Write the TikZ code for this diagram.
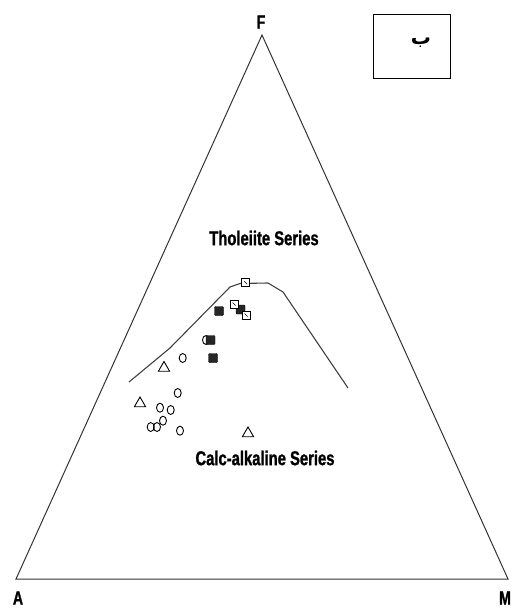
\documentclass[tikz,border=0pt]{standalone}
\usepackage{fontspec}
\setmainfont{Liberation Sans}
\newfontfamily\narrowfont[FakeStretch=0.74, BoldFeatures={FakeBold=1.2}]{Liberation Sans}
\newfontfamily\arabicfont[Script=Arabic]{DejaVu Sans}
\TeXXeTstate=1
\usepackage{tikz}
\usetikzlibrary{shapes.geometric, positioning, calc}
\tikzset{
  corner/.style={font=\narrowfont\bfseries\fontsize{19}{21}\selectfont, inner sep=0pt},
  serieslabel/.style={font=\narrowfont\bfseries\fontsize{20}{22}\selectfont, inner sep=0pt},
  circ/.style={draw, line width=0.9pt, ellipse, minimum width=7pt, minimum height=9pt, inner sep=0pt},
  tri/.style={draw, line width=0.9pt, regular polygon, regular polygon sides=3, minimum size=13pt, inner sep=0pt},
  opensq/.style={draw, line width=0.9pt, fill=white, minimum size=8pt, inner sep=0pt},
  filledsq/.style={draw, fill=black!85, rounded corners=1pt, minimum size=9pt, inner sep=0pt}
}

\begin{document}
\begin{tikzpicture}[x=1pt, y=-1pt]
\useasboundingbox (0,0) rectangle (514,610);

% AFM triangle
\coordinate (F) at (262,35);
\coordinate (A) at (16,579);
\coordinate (M) at (508,579);
\draw[line width=1pt, black!80] (F) -- (M) -- (A) -- cycle;

% Corner labels
\node[corner] (labF) at (261,22) {F};
\node[corner] (labA) at (18,598) {A};
\node[corner] (labM) at (505,598) {M};

% Figure tag box
\draw[line width=1pt] (373,15) rectangle (450,78);
\node[font=\arabicfont\bfseries\fontsize{20}{22}\selectfont] (tag) at (421,43) {\beginR ب\endR};

% Dividing line
\draw[line width=1.1pt, black!75] (129,382) -- (170,348) -- (230,287) -- (240,283.5)
  -- (268,283) -- (283,292) -- (348,388);

% Series labels
\node[serieslabel] (thol) at (264,238) {Tholeiite Series};
\node[serieslabel] (calc) at (265,458) {Calc-alkaline Series};

% Circles
\node[circ] (c1) at (206,340) {};
\node[circ] (c2) at (182.7,358) {};
\node[circ] (c3) at (177.7,393) {};
\node[circ] (c4) at (160,407.7) {};
\node[circ] (c5) at (170.7,410) {};
\node[circ] (c6) at (163,420.7) {};
\node[circ] (c7) at (150.7,427) {};
\node[circ] (c8) at (157,427) {};
\node[circ] (c9) at (180,430.7) {};

% Triangles
\node[tri] (t1) at (164,368) {};
\node[tri] (t2) at (140,403.5) {};
\node[tri] (t3) at (248,433.5) {};

% Filled squares
\node[filledsq] (f1) at (219,311) {};
\node[filledsq] (f2) at (240.5,309.5) {};
\node[filledsq] (f3) at (210.5,340) {};
\node[filledsq] (f4) at (213,358) {};

% Open squares
\node[opensq] (s1) at (245.7,282.7) {};
\node[opensq] (s2) at (234,304) {};
\node[opensq] (s3) at (246,315) {};
\foreach \s in {s1,s2,s3}
  \draw[line width=0.7pt] ($(\s.center)+(-1.5,-1.5)$) -- ($(\s.center)+(1.5,1.5)$);
\end{tikzpicture}
\end{document}
